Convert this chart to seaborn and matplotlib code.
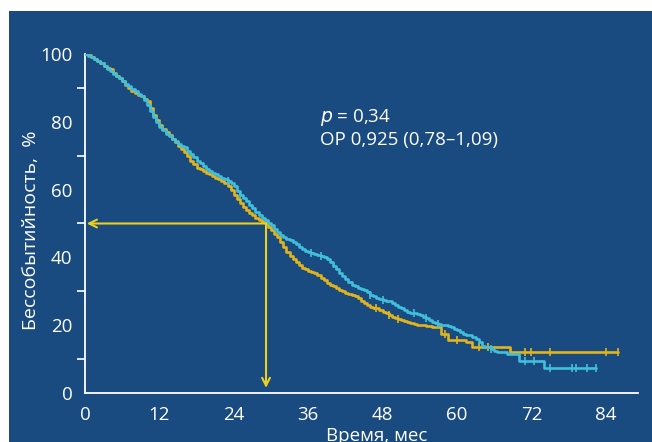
import numpy as np
import pandas as pd
import matplotlib
matplotlib.use("Agg")
import matplotlib.pyplot as plt
from matplotlib.patches import Rectangle
import seaborn as sns

# ---- data ----
yellow_t = [0, 0.5, 1, 1.5, 2, 2.5, 3, 3.5, 4, 4.5, 5, 5.5, 6, 6.5, 7, 7.5, 8, 8.5, 9, 9.5,
            10, 10.5, 11, 11.5, 12, 12.5, 13, 13.5, 14, 14.5, 15, 15.5, 16, 16.5, 17, 17.5,
            18, 18.5, 19, 19.5, 20, 20.5, 21, 21.5, 22, 22.5, 23, 23.5, 24, 24.5, 25, 25.5,
            26, 26.5, 27, 27.5, 28, 28.5, 29, 29.5, 30, 30.5, 31, 31.5, 32, 32.5, 33, 33.5,
            34, 34.5, 35, 35.5, 36, 36.5, 37, 37.5, 38, 38.5, 39, 39.5, 40, 40.5, 41, 41.5,
            42, 42.5, 43, 43.5, 44, 44.5, 45, 45.5, 46, 46.5, 47, 47.5, 48, 48.5, 49, 49.5,
            50, 50.5, 51, 51.5, 52, 52.5, 53, 53.5, 54, 55, 56, 57.5, 58.5, 61.5, 62.5,
            68.5, 86]
yellow_s = [100, 99.6, 99, 98.5, 98, 97.3, 96.5, 96, 95.5, 94.5, 93.5, 92.8, 92, 91, 90,
            89.2, 88.5, 88, 87.5, 86.8, 86, 84, 82, 80.5, 79, 78, 77, 76, 75, 74, 73, 72,
            71, 69.8, 68.5, 67.5, 66.5, 66, 65.5, 65, 64.5, 64, 63.5, 63, 62.5, 61.8, 61,
            60, 58.5, 57.2, 56, 55, 54, 53.2, 52.5, 51.7, 51, 50.5, 50, 49, 48, 47, 46,
            44.5, 43, 41.7, 40.5, 39.5, 38.5, 37.7, 37, 36.5, 36, 35.7, 35.5, 34.8, 34,
            33.2, 32.5, 32, 31.5, 31, 30.5, 30, 29.5, 29.2, 29, 28.5, 28, 27.2, 26.5, 26,
            25.5, 25.2, 25, 24.5, 24, 23.5, 23, 22.5, 22, 21.7, 21.5, 21.2, 21, 20.7, 20.5,
            20.2, 20, 19.8, 19.5, 17.5, 15.5, 15, 13.5, 12, 12]

cyan_t = [0, 0.5, 1, 1.5, 2, 2.5, 3, 3.5, 4, 4.5, 5, 5.5, 6, 6.5, 7, 7.5, 8, 8.5, 9, 9.5,
          10, 10.5, 11, 11.5, 12, 12.5, 13, 13.5, 14, 14.5, 15, 15.5, 16, 16.5, 17, 17.5,
          18, 18.5, 19, 19.5, 20, 20.5, 21, 21.5, 22, 22.5, 23, 23.5, 24, 24.5, 25, 25.5,
          26, 26.5, 27, 27.5, 28, 28.5, 29, 29.5, 30, 30.5, 31, 31.5, 32, 32.5, 33, 33.5,
          34, 34.5, 35, 35.5, 36, 36.5, 37, 37.5, 38, 38.5, 39, 39.5, 40, 40.5, 41, 41.5,
          42, 42.5, 43, 43.5, 44, 44.5, 45, 45.5, 46, 46.5, 47, 47.5, 48, 48.5, 49, 49.5,
          50, 50.5, 51, 51.5, 52, 52.5, 53, 53.5, 54, 54.5, 55, 55.5, 56, 56.5, 57, 57.5,
          58, 58.5, 59, 59.5, 60, 60.5, 61, 61.5, 62, 62.5, 63, 63.5, 64, 64.5, 65, 65.5,
          66, 66.5, 67, 68, 70, 73.5, 74, 82.5]
cyan_s = [100, 99.5, 99, 98.5, 98, 97.2, 96.5, 95.7, 95, 94.2, 93.5, 92.8, 92, 91.2, 90.5,
          89.8, 89, 88.2, 87.5, 86.3, 85, 83.2, 81.5, 80, 78.5, 77.5, 76.5, 75.7, 75, 74.2,
          73.5, 73, 72.5, 71.5, 70.5, 69.5, 68.5, 67.7, 67, 66.2, 65.5, 65, 64.5, 64, 63.5,
          63, 62.5, 61.8, 61, 59.7, 58.5, 57.5, 56.5, 55.5, 54.5, 53.5, 52.5, 51.7, 51,
          50.2, 49.5, 48.5, 47.5, 46.7, 46, 45.5, 45, 44.5, 44, 43.2, 42.5, 42, 41.5, 41.2,
          41, 40.8, 40.5, 40, 39.5, 38.5, 37.5, 36.5, 35.5, 34.5, 33.5, 32.7, 32, 31.5, 31,
          30.8, 30.5, 29.7, 29, 28.5, 28, 27.7, 27.5, 27.2, 27, 26.5, 26, 25.5, 25, 24.5,
          24, 23.7, 23.5, 23.2, 23, 22.5, 22, 21.5, 21, 20.7, 20.5, 20.2, 20, 19.7, 19.5,
          19, 18.5, 18, 17.5, 17.2, 17, 16.5, 16, 15, 14, 13.7, 13.5, 13, 12.5, 12.2, 12,
          11.5, 9.5, 9.5, 7.5, 7.5]

yellow_censor = [47, 49, 50.5, 58, 60, 63.5, 65, 71, 72, 75, 84, 86]
cyan_censor = [23, 25, 36.5, 38, 46, 48, 53, 55, 57, 65.5, 71, 72.5, 75, 78.5, 79.2, 81, 82.5]

x_ticks = [0, 12, 24, 36, 48, 60, 72, 84]
y_ticks = [0, 20, 40, 60, 80, 100]
median_time = 29.2
median_surv = 50

BG = "#194a80"
YEL = "#e3b51c"
CYA = "#41bfdc"
ARROW = "#efcf1e"

sns.set_theme(style="white")
plt.rcParams['font.family'] = ['Open Sans', 'DejaVu Sans']

fig = plt.figure(figsize=(6.52, 4.42), dpi=100)
fig.patch.set_facecolor("white")
fig.patches.append(Rectangle((9 / 652, 0), 1, 1 - 11 / 442, transform=fig.transFigure,
                             facecolor=BG, edgecolor="none", zorder=-10))

ax = fig.add_axes([85 / 652, 1 - 393 / 442, (638 - 85) / 652, (393 - 54) / 442])
ax.set_facecolor("none")

dy = pd.DataFrame({"t": yellow_t, "s": yellow_s})
dc = pd.DataFrame({"t": cyan_t, "s": cyan_s})
sns.lineplot(data=dy, x="t", y="s", ax=ax, color=YEL, lw=1.9, drawstyle="steps-post",
             estimator=None, sort=False, zorder=3)
sns.lineplot(data=dc, x="t", y="s", ax=ax, color=CYA, lw=1.9, drawstyle="steps-post",
             estimator=None, sort=False, zorder=4)

def step_at(ts, ss, q):
    idx = np.searchsorted(np.asarray(ts), np.asarray(q), side="right") - 1
    return np.asarray(ss)[idx]

cy = pd.DataFrame({"t": yellow_censor, "s": step_at(yellow_t, yellow_s, yellow_censor)})
cc = pd.DataFrame({"t": cyan_censor, "s": step_at(cyan_t, cyan_s, cyan_censor)})
sns.scatterplot(data=cy, x="t", y="s", ax=ax, marker="|", s=30, color=YEL, linewidth=1.2, zorder=3)
sns.scatterplot(data=cc, x="t", y="s", ax=ax, marker="|", s=30, color=CYA, linewidth=1.2, zorder=4)

# median arrows
ax.annotate("", xy=(0.3, median_surv), xytext=(median_time, median_surv),
            arrowprops=dict(arrowstyle="->", color=ARROW, lw=1.5, shrinkA=0, shrinkB=0,
                            mutation_scale=14), zorder=5)
ax.annotate("", xy=(median_time, 1.5), xytext=(median_time, median_surv),
            arrowprops=dict(arrowstyle="->", color=ARROW, lw=1.5, shrinkA=0, shrinkB=0,
                            mutation_scale=14), zorder=5)

ax.set_xlim(0, 89.2)
ax.set_ylim(0, 100)
ax.set_xticks(x_ticks)
ax.set_xticklabels([str(v) for v in x_ticks])
ax.set_yticks(y_ticks)
ax.set_yticklabels([str(v) for v in y_ticks])
ax.set_yticks([10, 30, 50, 70, 90], minor=True)

for side in ["top", "right"]:
    ax.spines[side].set_visible(False)
for side in ["left", "bottom"]:
    ax.spines[side].set_color("white")
    ax.spines[side].set_linewidth(1.3)

ax.tick_params(axis="both", which="both", direction="out", colors="white",
               width=1.2, labelsize=13.5, labelcolor="white")
ax.tick_params(axis="both", which="major", length=6, pad=3)
ax.tick_params(axis="y", which="minor", length=6, left=True)

ax.set_xlabel("Время, мес", color="white", fontsize=13.5)
ax.xaxis.set_label_coords(0.527, -0.10, transform=ax.transAxes)
ax.xaxis.label.set_va("top")
ax.set_ylabel("Бессобытийность,  %", color="white", fontsize=14)
ax.yaxis.set_label_coords(-0.082, 0.48)

ax.text(0.425, 0.814, "$p$ = 0,34", transform=ax.transAxes, color="white", fontsize=13.5,
        ha="left", va="center")
ax.text(0.425, 0.746, "ОР 0,925 (0,78–1,09)", transform=ax.transAxes, color="white",
        fontsize=13.5, ha="left", va="center")

fig.savefig("out.png", dpi=100, facecolor=fig.get_facecolor())
